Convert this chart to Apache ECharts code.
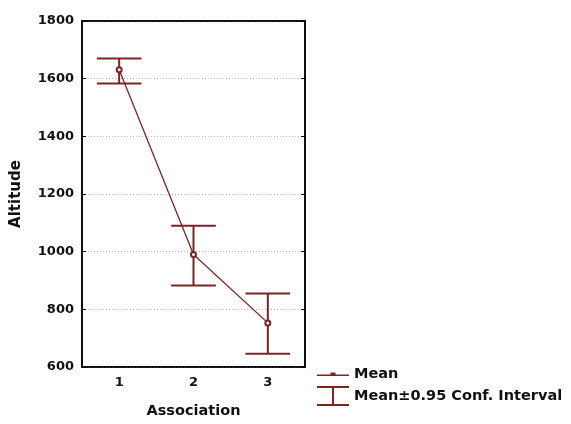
<!DOCTYPE html>
<html><head><meta charset="utf-8">
<script src="https://cdn.jsdelivr.net/npm/echarts@6/dist/echarts.min.js"></script>
<style>html,body{margin:0;padding:0;background:#fff}#c{width:571px;height:424px}</style>
</head><body><div id="c"></div>
<script>
const categories = ['1', '2', '3'];
const means = [1631, 990, 753];
const ciLower = [1583, 883, 646];
const ciUpper = [1670, 1090, 855];
const yTicks = [600, 800, 1000, 1200, 1400, 1600, 1800];

const col = '#7b2424';
const font = 'DejaVu Sans, sans-serif';
const chart = echarts.init(document.getElementById('c'));
const errData = categories.map((c, i) => [i, ciLower[i], ciUpper[i]]);
chart.setOption({
  animation: false,
  grid: { left: 82, right: 266, top: 21, bottom: 54, show: true, borderColor: '#000', borderWidth: 1.5 },
  legend: {
    orient: 'vertical', left: 312, top: 359, itemWidth: 32, itemHeight: 20, itemGap: 2, itemTextGap: 10,
    textStyle: { fontFamily: font, fontSize: 14.5, fontWeight: 'bold', color: '#111' },
    data: [
      { name: 'Mean', icon: 'path://M0,0M32,20M0,10.5H13.5V8.5H18.5V10.5H32V12H0Z' },
      { name: 'Mean±0.95 Conf. Interval', icon: 'path://M0,0H32V2H17V18H32V20H0V18H15V2H0Z' }
    ]
  },
  xAxis: [{
    type: 'category', data: categories, position: 'bottom',
    name: 'Association', nameLocation: 'middle', nameGap: 37,
    nameTextStyle: { fontFamily: font, fontSize: 14.5, fontWeight: 'bold', color: '#111' },
    axisLine: { lineStyle: { color: '#000', width: 1.5 } },
    axisTick: { inside: true, alignWithLabel: true, length: 4, lineStyle: { color: '#000' } },
    axisLabel: { fontFamily: font, fontSize: 13, fontWeight: 'bold', color: '#111', margin: 9 }
  }, {
    type: 'category', data: categories, position: 'top',
    axisLine: { lineStyle: { color: '#000', width: 1.5 } },
    axisTick: { inside: true, alignWithLabel: true, length: 4, lineStyle: { color: '#000' } },
    axisLabel: { show: false }
  }],
  yAxis: [{
    type: 'value', min: 600, max: 1800, interval: 200,
    name: 'Altitude', nameLocation: 'middle', nameGap: 58, nameRotate: 90,
    nameTextStyle: { fontFamily: font, fontSize: 15, fontWeight: 'bold', color: '#111' },
    axisLine: { show: true, lineStyle: { color: '#000', width: 1.5 } },
    axisTick: { show: true, inside: true, length: 4, lineStyle: { color: '#000' } },
    axisLabel: { fontFamily: font, fontSize: 13, fontWeight: 'bold', color: '#111', margin: 8, formatter: v => String(v) },
    splitLine: { show: true, lineStyle: { color: '#bbb', type: [1, 2], width: 1 } }
  }, {
    type: 'value', min: 600, max: 1800, interval: 200, position: 'right',
    axisLine: { show: true, lineStyle: { color: '#000', width: 1.5 } },
    axisTick: { show: true, inside: true, length: 4, lineStyle: { color: '#000' } },
    axisLabel: { show: false }, splitLine: { show: false }
  }],
  series: [{
    name: 'Mean', type: 'line', data: means,
    symbol: 'emptyCircle', symbolSize: 5,
    itemStyle: { color: col, borderWidth: 1.2 },
    lineStyle: { color: col, width: 1.3 }
  }, {
    name: 'Mean±0.95 Conf. Interval', type: 'custom', data: errData,
    itemStyle: { color: col },
    encode: { x: 0, y: [1, 2] },
    renderItem: function (params, api) {
      const i = api.value(0);
      const lo = api.coord([i, api.value(1)]);
      const hi = api.coord([i, api.value(2)]);
      const hw = api.size([1, 0])[0] * 0.3;
      const st = { stroke: col, lineWidth: 2, fill: null };
      return { type: 'group', children: [
        { type: 'line', shape: { x1: hi[0], y1: hi[1], x2: lo[0], y2: lo[1] }, style: st },
        { type: 'line', shape: { x1: hi[0] - hw, y1: hi[1], x2: hi[0] + hw, y2: hi[1] }, style: st },
        { type: 'line', shape: { x1: lo[0] - hw, y1: lo[1], x2: lo[0] + hw, y2: lo[1] }, style: st }
      ] };
    }
  }]
});
</script></body></html>
